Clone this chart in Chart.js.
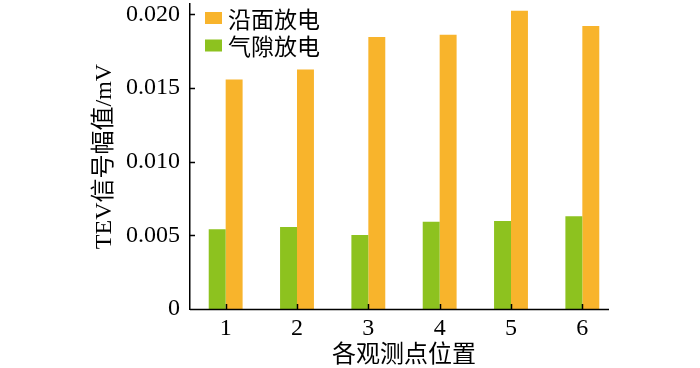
<!DOCTYPE html>
<html>
<head>
  <title>TEV信号幅值</title>
  <script src="https://cdn.jsdelivr.net/npm/chart.js"></script>
  <style>
    html, body { margin: 0; padding: 0; background: #fff; }
    .chart-container { width: 700px; height: 368px; position: relative; }
  </style>
</head>
<body>
  <div class="chart-container">
    <canvas id="tevChart"></canvas>
  </div>
  <script>
    // 数据
    const points = ['1', '2', '3', '4', '5', '6'];
    const gapDischarge = [0.00542, 0.00556, 0.00502, 0.00592, 0.00597, 0.00630];
    const surfaceDischarge = [0.01557, 0.01625, 0.01846, 0.01862, 0.02025, 0.01921];
    const yTicks = [0, 0.005, 0.010, 0.015, 0.020];
    const yTickLabels = ['0', '0.005', '0.010', '0.015', '0.020'];

    const FONT = "'Liberation Serif', 'Noto Sans CJK SC', serif";

    // x轴线（右端略短）、内向刻度线、图例
    const extras = {
      id: 'extras',
      afterDatasetsDraw(chart) {
        const ctx = chart.ctx;
        const area = chart.chartArea;
        const x = chart.scales.x, y = chart.scales.y;
        ctx.save();
        ctx.strokeStyle = '#000';
        ctx.lineWidth = 1.5;
        ctx.beginPath();
        ctx.moveTo(area.left, area.bottom + 0.5);
        ctx.lineTo(area.right - 9, area.bottom + 0.5);
        yTicks.forEach(v => {
          const py = Math.round(y.getPixelForValue(v)) + 0.5;
          ctx.moveTo(area.left, py);
          ctx.lineTo(area.left + 5, py);
        });
        points.forEach((p, i) => {
          const px = Math.round(x.getPixelForValue(i)) + 0.5;
          ctx.moveTo(px, area.bottom);
          ctx.lineTo(px, area.bottom - 5);
        });
        ctx.stroke();

        // 图例（沿面放电在上）
        const items = chart.data.datasets.slice().reverse();
        ctx.font = "23px 'Noto Sans CJK SC', sans-serif";
        ctx.textBaseline = 'middle';
        ctx.textAlign = 'left';
        items.forEach((ds, i) => {
          const cy = 18 + i * 27.5;
          ctx.fillStyle = ds.backgroundColor;
          ctx.fillRect(205, cy - 6, 17, 12);
          ctx.fillStyle = '#000';
          ctx.fillText(ds.label, 228, cy + 1);
        });
        ctx.restore();
      }
    };

    new Chart(document.getElementById('tevChart'), {
      type: 'bar',
      data: {
        labels: points,
        datasets: [{
          label: '气隙放电',
          data: gapDischarge,
          backgroundColor: '#8DC21F'
        }, {
          label: '沿面放电',
          data: surfaceDischarge,
          backgroundColor: '#F8B42C'
        }]
      },
      options: {
        responsive: true,
        maintainAspectRatio: false,
        animation: false,
        layout: { padding: { left: 93, right: 82, top: 4, bottom: 0 } },
        categoryPercentage: 0.475,
        barPercentage: 1.0,
        plugins: {
          legend: { display: false },
          tooltip: { enabled: false }
        },
        scales: {
          x: {
            grid: { display: false, drawTicks: false },
            border: { display: false },
            ticks: {
              color: '#000',
              padding: 5,
              font: { family: FONT, size: 24 }
            },
            title: {
              display: true,
              text: '各观测点位置',
              color: '#000',
              padding: 0,
              font: { family: FONT, size: 24, lineHeight: 1 }
            },
            afterFit(scale) {
              scale.height = 59;
              scale.paddingLeft = 0;
              scale.paddingRight = 0;
            }
          },
          y: {
            min: 0,
            max: 0.0207,
            grid: { display: false, drawTicks: false },
            border: { display: true, color: '#000', width: 1.5 },
            afterBuildTicks(scale) {
              scale.ticks = yTicks.map(v => ({ value: v }));
            },
            ticks: {
              color: '#000',
              padding: 10,
              font: { family: FONT, size: 24 },
              callback: function(value) {
                const i = yTicks.findIndex(t => Math.abs(t - value) < 1e-9);
                return i >= 0 ? yTickLabels[i] : null;
              }
            },
            title: {
              display: true,
              text: 'TEV信号幅值/mV',
              color: '#000',
              padding: 0,
              font: { family: FONT, size: 24, lineHeight: 1 }
            },
            afterFit(scale) {
              scale.width = 97;
              scale.paddingTop = 0;
              scale.paddingBottom = 0;
            }
          }
        }
      },
      plugins: [extras]
    });
  </script>
</body>
</html>
